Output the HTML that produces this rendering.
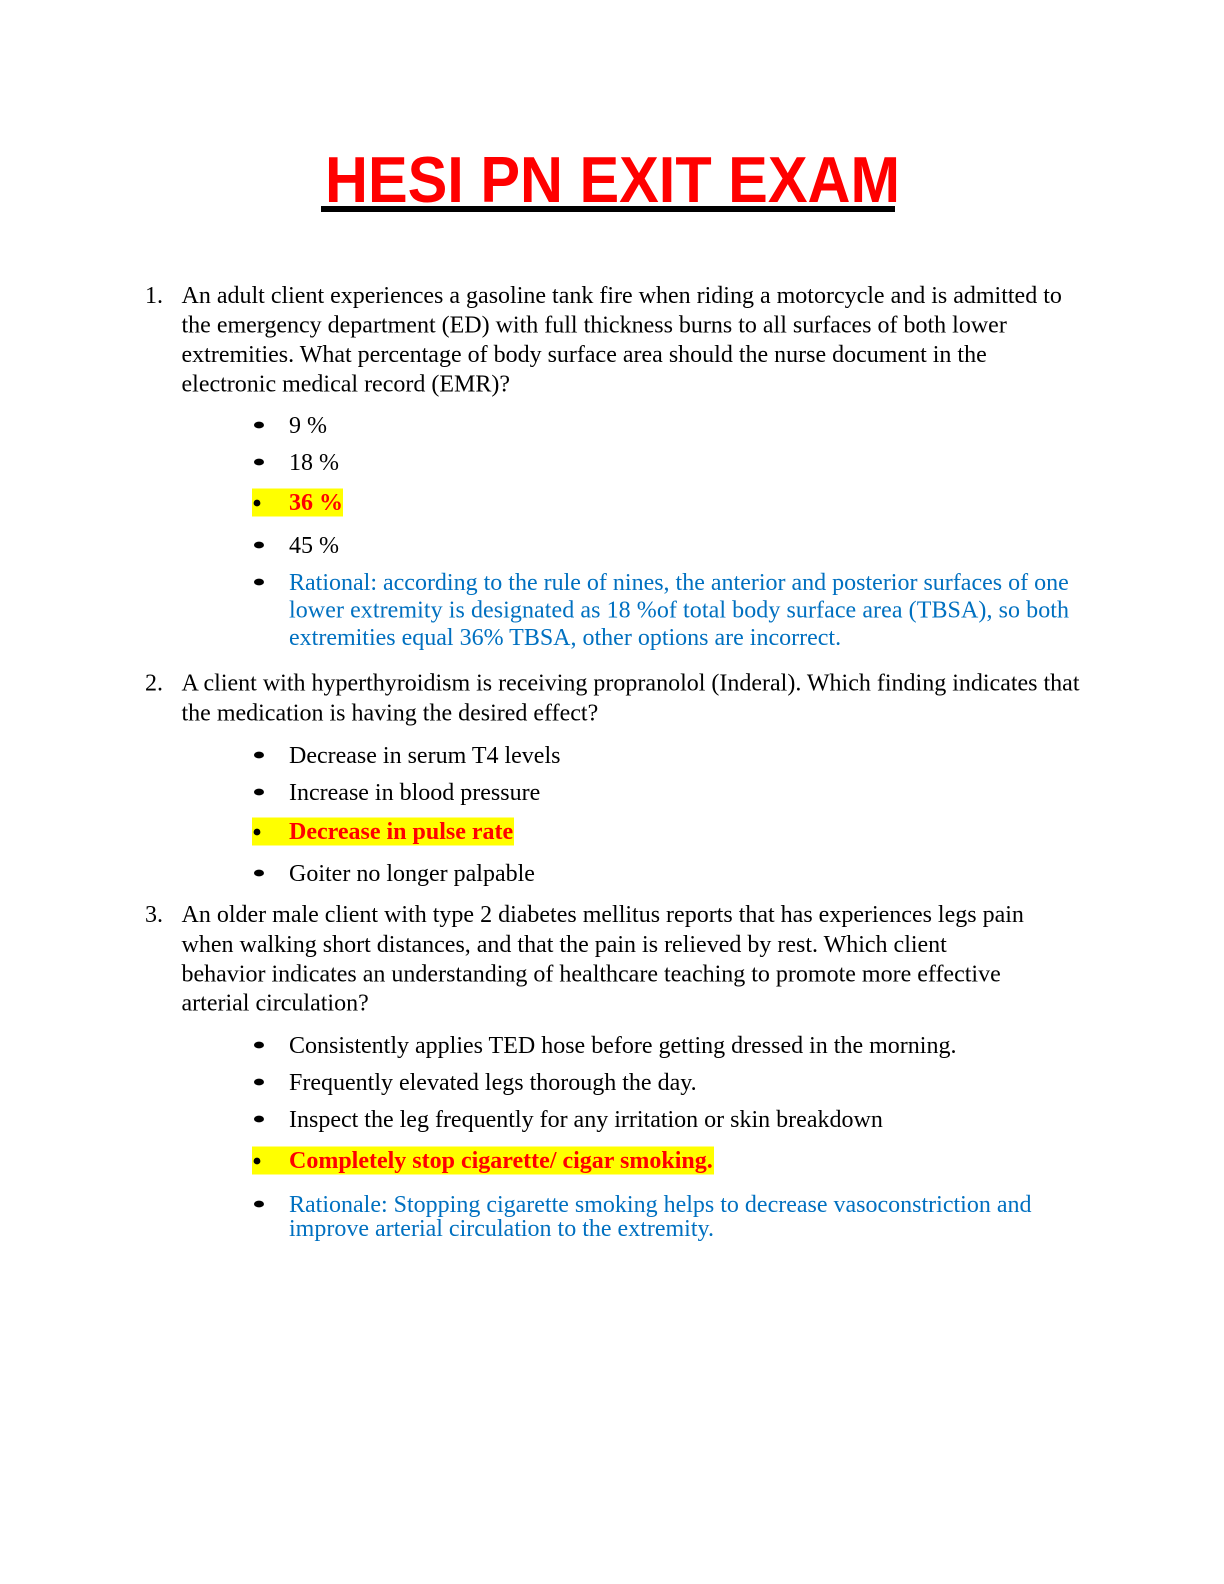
<!DOCTYPE html>
<html>
<head>
<meta charset="utf-8">
<style>
  html, body { margin: 0; padding: 0; background: #fff; }
  body { width: 1224px; height: 1584px; overflow: hidden; }
  svg { display: block; }
  .t { font-family: "Liberation Serif", "Times New Roman", serif; font-size: 24px; fill: #000; }
  .b { font-weight: bold; fill: #FF0000; }
  .blue { fill: #0070C0; }
</style>
</head>
<body>
<svg width="1224" height="1584" viewBox="0 0 1224 1584" xmlns="http://www.w3.org/2000/svg">
  <rect x="0" y="0" width="1224" height="1584" fill="#fff"/>

  <!-- Title -->
  <text x="325" y="202" font-family="Liberation Sans, Arial, sans-serif" font-weight="bold" font-size="65" fill="#FF0000" textLength="575" lengthAdjust="spacingAndGlyphs">HESI PN EXIT EXAM</text>
  <rect x="321" y="206" width="574" height="6" fill="#000"/>

  <!-- Question 1 -->
  <text class="t" x="145" y="303">1.</text>
  <text class="t" x="181.5" y="303">An adult client experiences a gasoline tank fire when riding a motorcycle and is admitted to</text>
  <text class="t" x="181.5" y="332.5">the emergency department (ED) with full thickness burns to all surfaces of both lower</text>
  <text class="t" x="181.5" y="362">extremities. What percentage of body surface area should the nurse document in the</text>
  <text class="t" x="181.5" y="391.5">electronic medical record (EMR)?</text>

  <ellipse cx="259" cy="425" rx="5" ry="3.4" fill="#000"/>
  <text class="t" x="289" y="433">9 %</text>

  <ellipse cx="259" cy="462" rx="5" ry="3.4" fill="#000"/>
  <text class="t" x="289" y="470">18 %</text>

  <rect x="252" y="488.5" width="91" height="28" fill="#FFFF00"/>
  <circle cx="257" cy="503" r="3.4" fill="#000"/>
  <text class="t b" x="289" y="510">36 %</text>

  <ellipse cx="259" cy="545" rx="5" ry="3.4" fill="#000"/>
  <text class="t" x="289" y="553">45 %</text>

  <ellipse cx="259" cy="582" rx="5" ry="3.4" fill="#000"/>
  <text class="t blue" x="289" y="590">Rational: according to the rule of nines, the anterior and posterior surfaces of one</text>
  <text class="t blue" x="289" y="617.5" textLength="780" lengthAdjust="spacing">lower extremity is designated as 18 %of total body surface area (TBSA), so both</text>
  <text class="t blue" x="289" y="645">extremities equal 36% TBSA, other options are incorrect.</text>

  <!-- Question 2 -->
  <text class="t" x="145" y="690.5">2.</text>
  <text class="t" x="181.5" y="690.5">A client with hyperthyroidism is receiving propranolol (Inderal). Which finding indicates that</text>
  <text class="t" x="181.5" y="720.5">the medication is having the desired effect?</text>

  <ellipse cx="259" cy="755" rx="5" ry="3.4" fill="#000"/>
  <text class="t" x="289" y="763">Decrease in serum T4 levels</text>

  <ellipse cx="259" cy="792" rx="5" ry="3.4" fill="#000"/>
  <text class="t" x="289" y="800">Increase in blood pressure</text>

  <rect x="252" y="817.5" width="262" height="28" fill="#FFFF00"/>
  <circle cx="257" cy="832" r="3.4" fill="#000"/>
  <text class="t b" x="289" y="839">Decrease in pulse rate</text>

  <ellipse cx="259" cy="873" rx="5" ry="3.4" fill="#000"/>
  <text class="t" x="289" y="881">Goiter no longer palpable</text>

  <!-- Question 3 -->
  <text class="t" x="145" y="922">3.</text>
  <text class="t" x="181.5" y="922">An older male client with type 2 diabetes mellitus reports that has experiences legs pain</text>
  <text class="t" x="181.5" y="952">when walking short distances, and that the pain is relieved by rest. Which client</text>
  <text class="t" x="181.5" y="981.5">behavior indicates an understanding of healthcare teaching to promote more effective</text>
  <text class="t" x="181.5" y="1010.5">arterial circulation?</text>

  <ellipse cx="259" cy="1045" rx="5" ry="3.4" fill="#000"/>
  <text class="t" x="289" y="1053">Consistently applies TED hose before getting dressed in the morning.</text>

  <ellipse cx="259" cy="1082" rx="5" ry="3.4" fill="#000"/>
  <text class="t" x="289" y="1090">Frequently elevated legs thorough the day.</text>

  <ellipse cx="259" cy="1119" rx="5" ry="3.4" fill="#000"/>
  <text class="t" x="289" y="1127">Inspect the leg frequently for any irritation or skin breakdown</text>

  <rect x="252" y="1146.5" width="462" height="28" fill="#FFFF00"/>
  <circle cx="257" cy="1161" r="3.4" fill="#000"/>
  <text class="t b" x="289" y="1168">Completely stop cigarette/ cigar smoking.</text>

  <ellipse cx="259" cy="1204" rx="5" ry="3.4" fill="#000"/>
  <text class="t blue" x="289" y="1212">Rationale: Stopping cigarette smoking helps to decrease vasoconstriction and</text>
  <text class="t blue" x="289" y="1236">improve arterial circulation to the extremity.</text>
</svg>
</body>
</html>
